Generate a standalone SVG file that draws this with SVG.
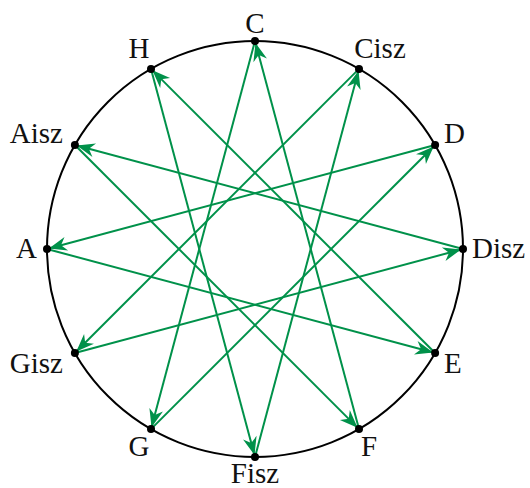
<svg xmlns="http://www.w3.org/2000/svg" width="530" height="488" viewBox="0 0 530 488">
<style>
.lbl{font-family:"Liberation Serif","DejaVu Serif",serif;font-size:29px;fill:#111}
.e{stroke:#00914A;stroke-width:2;fill:none;marker-end:url(#ah)}
.dot{fill:#000}
</style>
<defs>
<marker id="ah" markerUnits="userSpaceOnUse" markerWidth="20" markerHeight="14" refX="2" refY="0" orient="auto" overflow="visible">
<path d="M0,0 L-18,-7 L-12.5,0 L-18,7 Z" fill="#00914A"/>
</marker>
</defs>
<rect width="530" height="488" fill="#fff"/>
<circle cx="255" cy="249" r="208" fill="none" stroke="#000" stroke-width="2"/>
<g id="connectors">
<line class="e" x1="255" y1="41" x2="151" y2="429.1"/>
<line class="e" x1="151" y1="429.1" x2="435.1" y2="145"/>
<line class="e" x1="435.1" y1="145" x2="47" y2="249"/>
<line class="e" x1="47" y1="249" x2="435.1" y2="353"/>
<line class="e" x1="435.1" y1="353" x2="151" y2="68.9"/>
<line class="e" x1="151" y1="68.9" x2="255" y2="457"/>
<line class="e" x1="255" y1="457" x2="359" y2="68.9"/>
<line class="e" x1="359" y1="68.9" x2="74.9" y2="353"/>
<line class="e" x1="74.9" y1="353" x2="463" y2="249"/>
<line class="e" x1="463" y1="249" x2="74.9" y2="145"/>
<line class="e" x1="74.9" y1="145" x2="359" y2="429.1"/>
<line class="e" x1="359" y1="429.1" x2="255" y2="41"/>
</g>
<g id="C"><circle class="dot" cx="255" cy="41" r="4"/><text class="lbl" x="255" y="33" text-anchor="middle">C</text></g>
<g id="Cisz"><circle class="dot" cx="359" cy="68.9" r="4"/><text class="lbl" x="380" y="58" text-anchor="middle">Cisz</text></g>
<g id="D"><circle class="dot" cx="435.1" cy="145" r="4"/><text class="lbl" x="444" y="143">D</text></g>
<g id="Disz"><circle class="dot" cx="463" cy="249" r="4"/><text class="lbl" x="472" y="258">Disz</text></g>
<g id="E"><circle class="dot" cx="435.1" cy="353" r="4"/><text class="lbl" x="444" y="373">E</text></g>
<g id="F"><circle class="dot" cx="359" cy="429.1" r="4"/><text class="lbl" x="369" y="456" text-anchor="middle">F</text></g>
<g id="Fisz"><circle class="dot" cx="255" cy="457" r="4"/><text class="lbl" x="255" y="483" text-anchor="middle">Fisz</text></g>
<g id="G"><circle class="dot" cx="151" cy="429.1" r="4"/><text class="lbl" x="139" y="456" text-anchor="middle">G</text></g>
<g id="Gisz"><circle class="dot" cx="74.9" cy="353" r="4"/><text class="lbl" x="63" y="373" text-anchor="end">Gisz</text></g>
<g id="A"><circle class="dot" cx="47" cy="249" r="4"/><text class="lbl" x="37" y="258" text-anchor="end">A</text></g>
<g id="Aisz"><circle class="dot" cx="74.9" cy="145" r="4"/><text class="lbl" x="63" y="143" text-anchor="end">Aisz</text></g>
<g id="H"><circle class="dot" cx="151" cy="68.9" r="4"/><text class="lbl" x="139" y="58" text-anchor="middle">H</text></g>
</svg>
